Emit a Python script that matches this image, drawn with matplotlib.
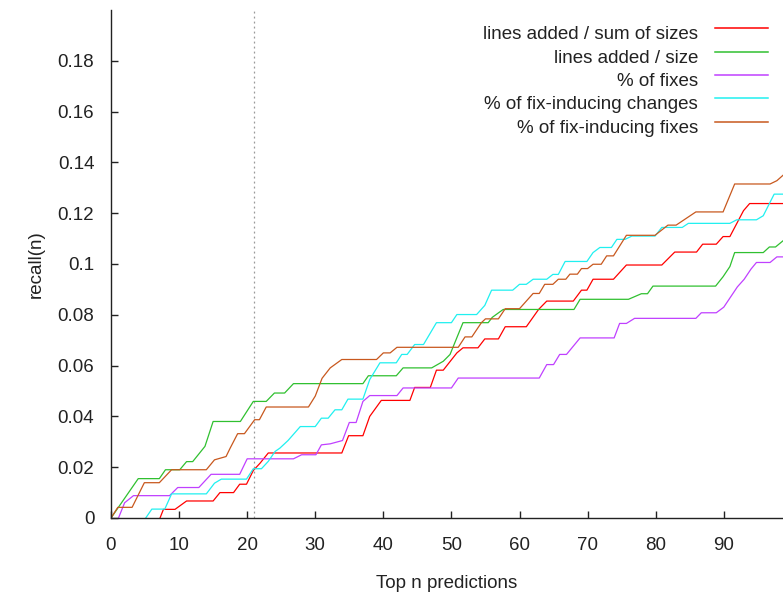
import matplotlib
matplotlib.use('Agg')
import matplotlib.pyplot as plt
from matplotlib.lines import Line2D
from matplotlib.ticker import FormatStrFormatter

plt.rcParams['font.family'] = ['Liberation Sans', 'DejaVu Sans']

# recall(n) for each ranking heuristic, read at the corners of each step
n_sum = [7.2, 7.7, 9.4, 11.1, 15, 16, 18, 18.9, 19.9, 20.9, 21.9, 23.1, 33.9, 34.9, 37, 38,
         39.7, 43.9, 44.6, 46.9, 47.8, 48.8, 50.8, 51.7, 53.9, 54.9, 56.9, 57.9, 61, 62.8,
         64, 67.9, 69.1, 69.9, 70.8, 73.8, 75.7, 80.9, 82.8, 86, 86.9, 88.9, 89.9, 90.9,
         92.9, 93.8, 100]
r_sum = [0, 0.0034, 0.0034, 0.0067, 0.0067, 0.010, 0.010, 0.0133, 0.0133, 0.0187, 0.0216,
         0.0256, 0.0256, 0.0324, 0.0324, 0.040, 0.0463, 0.0463, 0.0514, 0.0514, 0.0582,
         0.0582, 0.065, 0.067, 0.067, 0.0705, 0.0705, 0.0753, 0.0753, 0.0821, 0.0854, 0.0854,
         0.0897, 0.0897, 0.094, 0.094, 0.0996, 0.0996, 0.1047, 0.1047, 0.1078, 0.1078,
         0.1108, 0.1108, 0.121, 0.1238, 0.1238]

n_size = [0, 4, 7.1, 8, 10.1, 11.1, 12, 13.8, 15, 19, 20.9, 22.8, 24, 25.5, 26.8, 37, 37.8,
          41.9, 42.9, 47.1, 48.8, 49.8, 50.8, 51.7, 55.4, 56, 57.6, 68, 68.9, 76, 77.9, 78.8,
          79.6, 88.8, 89.9, 90.9, 91.6, 95.8, 96.7, 97.6, 100]
r_size = [0, 0.0155, 0.0155, 0.019, 0.019, 0.0222, 0.0222, 0.0282, 0.038, 0.038, 0.0459,
          0.0459, 0.0492, 0.0492, 0.0529, 0.0529, 0.056, 0.056, 0.0591, 0.0591, 0.0617,
          0.0644, 0.071, 0.0769, 0.0769, 0.079, 0.0821, 0.0821, 0.0861, 0.0861, 0.0883,
          0.0883, 0.0913, 0.0913, 0.095, 0.099, 0.1045, 0.1045, 0.1067, 0.1067, 0.112]

n_fix = [1.1, 2, 3.3, 8.6, 9.8, 12.9, 14.7, 18.9, 20, 26.8, 28, 30.1, 30.9, 32.2, 34, 35, 36,
         37, 38, 42, 42.9, 50, 51, 62.9, 64, 65, 65.9, 66.9, 68.9, 73.9, 74.7, 75.7, 76.9,
         85.9, 86.7, 88.9, 90, 91, 92, 93, 94, 94.8, 96.8, 97.8, 100]
r_fix = [0, 0.006, 0.0088, 0.0088, 0.012, 0.012, 0.0172, 0.0172, 0.0233, 0.0233, 0.0249,
         0.0249, 0.0288, 0.0292, 0.0305, 0.0376, 0.0376, 0.0459, 0.0482, 0.0482, 0.0512,
         0.0512, 0.0551, 0.0551, 0.0604, 0.0604, 0.0644, 0.0644, 0.0709, 0.0709, 0.0766,
         0.0766, 0.0786, 0.0786, 0.0808, 0.0808, 0.083, 0.087, 0.091, 0.094, 0.098, 0.1006,
         0.1006, 0.1028, 0.1028]

n_fic = [5.1, 6, 7.9, 8.9, 14, 15.2, 16.2, 19.9, 20.9, 22.1, 23.1, 24.1, 24.8, 26, 27.8, 30,
         30.9, 31.9, 32.9, 33.9, 34.8, 37, 38, 39.5, 41.9, 42.7, 43.5, 44.6, 45.9, 47.8, 50,
         50.8, 53.7, 54.9, 55.9, 59, 60, 61, 62, 64, 64.9, 65.7, 66.7, 69.9, 70.8, 71.8,
         73.5, 74.3, 75.5, 76.5, 79.9, 80.9, 83.9, 84.8, 90.9, 91.9, 94.8, 95.8, 97.4, 100]
r_fic = [0, 0.0035, 0.0035, 0.0095, 0.0095, 0.0137, 0.0153, 0.0153, 0.0194, 0.0194, 0.0223,
         0.0262, 0.0275, 0.0305, 0.036, 0.036, 0.0393, 0.0393, 0.0426, 0.0426, 0.0468,
         0.0468, 0.0545, 0.0611, 0.0611, 0.0644, 0.0644, 0.0683, 0.0683, 0.0769, 0.0769,
         0.0801, 0.0801, 0.0837, 0.0897, 0.0897, 0.092, 0.092, 0.094, 0.094, 0.0959, 0.0959,
         0.101, 0.101, 0.1045, 0.1065, 0.1065, 0.1097, 0.1097, 0.111, 0.111, 0.1144, 0.1144,
         0.116, 0.116, 0.1174, 0.1174, 0.119, 0.1275, 0.1275]

n_fif = [0, 1, 3.1, 4.9, 7.1, 8.9, 14, 15.2, 16.9, 17.5, 18.6, 19.6, 21.1, 21.8, 22.8, 29,
         30, 31, 32.2, 33.9, 39, 40, 41, 42, 51, 52, 53, 54.4, 55, 56.9, 57.9, 60, 62, 62.9,
         63.7, 64.9, 65.7, 66.8, 67.4, 68.5, 69.1, 70, 70.8, 72, 72.8, 73.8, 75.7, 79.9,
         81.8, 83, 85.9, 89.9, 91.6, 96.8, 97.8, 100]
r_fif = [0, 0.0042, 0.0042, 0.0139, 0.0139, 0.019, 0.019, 0.0229, 0.0242, 0.0275, 0.0332,
         0.0332, 0.0387, 0.0387, 0.0437, 0.0437, 0.048, 0.055, 0.0591, 0.0624, 0.0624, 0.065,
         0.065, 0.0672, 0.0672, 0.0713, 0.0713, 0.0769, 0.0784, 0.0784, 0.0824, 0.0824,
         0.0884, 0.0884, 0.092, 0.092, 0.094, 0.094, 0.096, 0.096, 0.0982, 0.0982, 0.0999,
         0.0999, 0.1032, 0.1032, 0.1113, 0.1113, 0.1153, 0.1153, 0.1205, 0.1205, 0.1315,
         0.1315, 0.1328, 0.138]

labels = ['lines added / sum of sizes', 'lines added / size', '% of fixes',
          '% of fix-inducing changes', '% of fix-inducing fixes']
colors = ['#ff0000', '#30c030', '#c040ff', '#20f0f0', '#c8581e']
cutoff = 21

W, H = 783, 593
fig = plt.figure(figsize=(W / 100, H / 100), dpi=100)
ax = fig.add_axes([111 / W, 75 / H, 672 / W, 508 / H])

series = [(n_sum, r_sum), (n_size, r_size), (n_fix, r_fix), (n_fic, r_fic), (n_fif, r_fif)]
for (xs, ys), col in zip(series, colors):
    ax.plot(xs, ys, color=col, lw=0.9)

ax.axvline(cutoff, color='#999999', lw=0.9, ls=(0, (1.5, 2.5)), zorder=0)

ax.set_xlim(0, 98.7)
ax.set_ylim(0, 0.2)
ax.set_xticks(range(0, 100, 10))
ax.set_yticks([0, 0.02, 0.04, 0.06, 0.08, 0.1, 0.12, 0.14, 0.16, 0.18])
ax.yaxis.set_major_formatter(FormatStrFormatter('%g'))
ax.tick_params(direction='in', length=5, width=1, labelsize=13.5, colors='#222222')
ax.tick_params(axis='y', pad=12)
ax.tick_params(axis='x', pad=14)
ax.spines['top'].set_visible(False)
ax.spines['right'].set_visible(False)
for s in ('left', 'bottom'):
    ax.spines[s].set_linewidth(1.0)
    ax.spines[s].set_color('#222222')

ax.set_xlabel('Top n predictions', fontsize=13.5, labelpad=15, color='#222222')
ax.set_ylabel('recall(n)', fontsize=13.5, labelpad=9, color='#222222')

# key in the top right corner: right-aligned text, sample line after it
for i, (lab, col) in enumerate(zip(labels, colors)):
    y_line = 28.3 + 23.33 * i
    fig.text(698 / W, 1 - (y_line + 11) / H, lab, ha='right', va='baseline',
             fontsize=13.5, color='#222222')
    fig.add_artist(Line2D([715 / W, 768 / W], [1 - y_line / H] * 2,
                          color=col, lw=1.1, transform=fig.transFigure))

fig.savefig('out.png', dpi=100)
